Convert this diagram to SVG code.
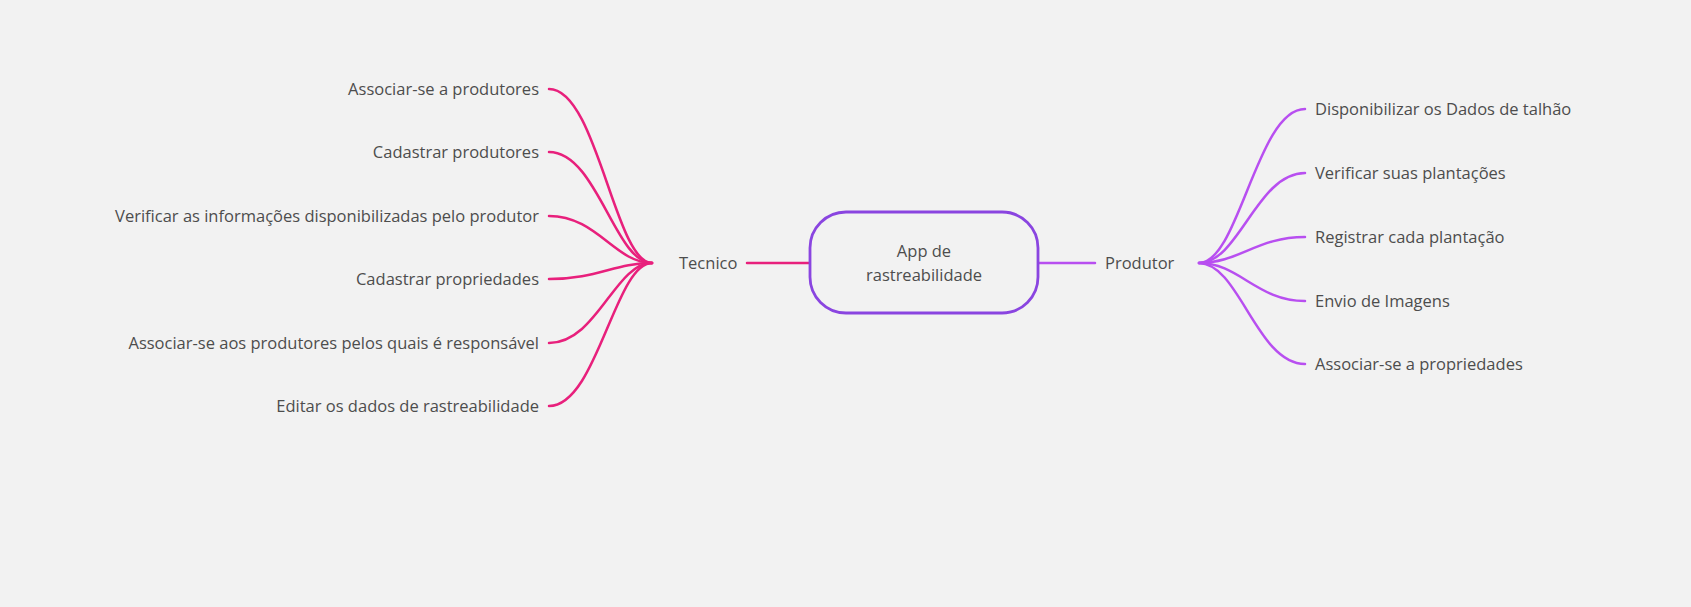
<svg xmlns="http://www.w3.org/2000/svg" width="1691" height="607" viewBox="0 0 1691 607">
<style>
text{font-family:"Open Sans","Noto Sans","Liberation Sans",sans-serif;font-size:16.5px;fill:#4d4d4d}
.l{text-anchor:end}
.c{text-anchor:middle}
.pk{fill:none;stroke:#e8207c;stroke-width:2.5;stroke-linecap:round}
.pu{fill:none;stroke:#b84ff0;stroke-width:2.5;stroke-linecap:round}
</style>
<rect width="1691" height="607" fill="#f2f2f2"/>
<g id="connectors">
<path class="pk" d="M747,263 H810"/>
<path class="pu" d="M1038,263 H1095"/>
<path class="pk" d="M549,89 C597,89 615,263 652,263"/>
<path class="pk" d="M549,152 C597,152 615,263 652,263"/>
<path class="pk" d="M549,216 C597,216 615,263 652,263"/>
<path class="pk" d="M549,279 C597,279 615,263 652,263"/>
<path class="pk" d="M549,343 C597,343 615,263 652,263"/>
<path class="pk" d="M549,406 C597,406 615,263 652,263"/>
<path class="pu" d="M1305,109 C1257,109 1239,263 1199,263"/>
<path class="pu" d="M1305,173 C1257,173 1239,263 1199,263"/>
<path class="pu" d="M1305,237 C1257,237 1239,263 1199,263"/>
<path class="pu" d="M1305,301 C1257,301 1239,263 1199,263"/>
<path class="pu" d="M1305,364 C1257,364 1239,263 1199,263"/>
</g>
<g id="root">
<rect x="810" y="212" width="228" height="101" rx="36" fill="#f2f2f2" stroke="#8a45e0" stroke-width="2.8"/>
<text class="c" x="924" y="257">App de</text>
<text class="c" x="924" y="281">rastreabilidade</text>
</g>
<g id="tecnico"><text x="679" y="269">Tecnico</text></g>
<g id="produtor"><text x="1105" y="269">Produtor</text></g>
<g id="t1"><text class="l" x="539" y="95">Associar-se a produtores</text></g>
<g id="t2"><text class="l" x="539" y="158">Cadastrar produtores</text></g>
<g id="t3"><text class="l" x="539" y="222">Verificar as informações disponibilizadas pelo produtor</text></g>
<g id="t4"><text class="l" x="539" y="285">Cadastrar propriedades</text></g>
<g id="t5"><text class="l" x="539" y="349">Associar-se aos produtores pelos quais é responsável</text></g>
<g id="t6"><text class="l" x="539" y="412">Editar os dados de rastreabilidade</text></g>
<g id="p1"><text x="1315" y="115">Disponibilizar os Dados de talhão</text></g>
<g id="p2"><text x="1315" y="179">Verificar suas plantações</text></g>
<g id="p3"><text x="1315" y="243">Registrar cada plantação</text></g>
<g id="p4"><text x="1315" y="307">Envio de Imagens</text></g>
<g id="p5"><text x="1315" y="370">Associar-se a propriedades</text></g>
</svg>
